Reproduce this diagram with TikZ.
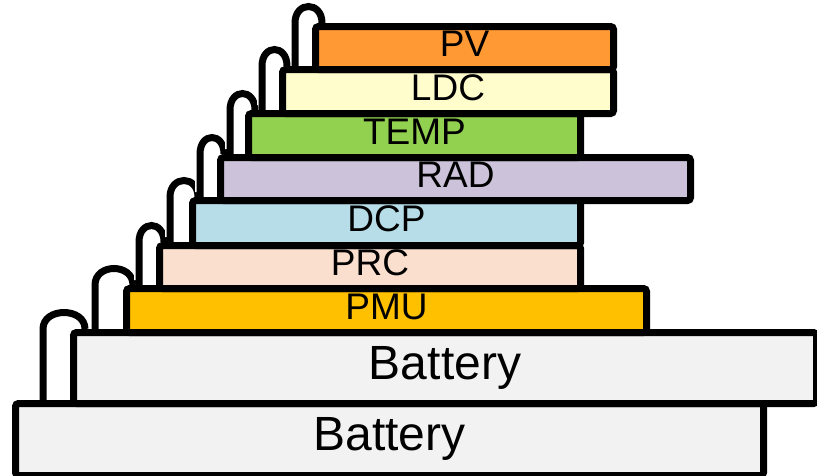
\documentclass[tikz,border=0pt]{standalone}
\usepackage{fontspec}
\setmainfont{Liberation Sans}
\usepackage{xcolor}
\usepackage{tikz}
\definecolor{layerpv}{RGB}{255,153,51}
\definecolor{layerldc}{RGB}{255,253,204}
\definecolor{layertemp}{RGB}{146,208,80}
\definecolor{layerrad}{RGB}{204,194,218}
\definecolor{layerdcp}{RGB}{183,222,232}
\definecolor{layerprc}{RGB}{250,222,206}
\definecolor{layerpmu}{RGB}{255,192,0}
\definecolor{layerbat}{RGB}{242,242,242}
\tikzset{
  stacklayer/.style={
    rectangle,
    rounded corners=3pt,
    draw=black,
    line width=7pt,
    anchor=north west,
    inner sep=0pt,
    align=center,
    text height=26.5pt,
    text depth=9.3pt,
    font=\fontsize{37}{40}\selectfont
  },
  batterylayer/.style={
    stacklayer,
    fill=layerbat,
    text height=34.4pt,
    text depth=12pt,
    font=\fontsize{48}{52}\selectfont
  },
  stackhook/.style={
    draw=black,
    line width=7pt,
    preaction={draw=white, line width=10pt, shorten <=5pt, shorten >=5pt}
  }
}

\begin{document}
\begin{tikzpicture}[x=1pt, y=-1pt]
\useasboundingbox (0,0) rectangle (817,475);

% layers, bottom to top
\node[batterylayer, minimum width=748pt, minimum height=72pt] (batlow) at (12,400) {Battery};
\node[batterylayer, minimum width=743pt, minimum height=71pt] (batup) at (70,329) {Battery};
\node[stacklayer, fill=layerpmu, minimum width=520pt, minimum height=44pt] (pmu) at (123,285) {PMU};
\node[stacklayer, fill=layerprc, minimum width=421pt, minimum height=43pt] (prc) at (156,242) {PRC};
\node[stacklayer, fill=layerdcp, minimum width=388pt, minimum height=45pt] (dcp) at (189,197) {DCP};
\node[stacklayer, fill=layerrad, minimum width=470pt, minimum height=43pt] (rad) at (217,154) {RAD};
\node[stacklayer, fill=layertemp, minimum width=332pt, minimum height=44pt] (temp) at (245,110) {TEMP};
\node[stacklayer, fill=layerldc, minimum width=331pt, minimum height=44pt] (ldc) at (279,66) {LDC};
\node[stacklayer, fill=layerpv, minimum width=298pt, minimum height=43pt] (pv) at (312,23) {PV};

% hooks between layers
\draw[stackhook] ([xshift=15pt]batup.north west) .. controls +(0,22pt) and +(0,22pt) .. ([xshift=-27pt]batup.north west) -- ([xshift=31pt]batlow.north west);
\draw[stackhook] ([xshift=10pt]pmu.north west) .. controls +(0,22pt) and +(0,22pt) .. ([xshift=-28pt]pmu.north west) -- ([xshift=25pt]batup.north west);
\draw[stackhook] ([xshift=8pt]prc.north west) .. controls +(0,22pt) and +(0,22pt) .. ([xshift=-17pt]prc.north west) -- ([xshift=16pt]pmu.north west);
\draw[stackhook] ([xshift=9pt]dcp.north west) .. controls +(0,22pt) and +(0,22pt) .. ([xshift=-19pt]dcp.north west) -- ([xshift=14pt]prc.north west);
\draw[stackhook] ([xshift=7pt]rad.north west) .. controls +(0,22pt) and +(0,22pt) .. ([xshift=-17pt]rad.north west) -- ([xshift=11pt]dcp.north west);
\draw[stackhook] ([xshift=10pt]temp.north west) .. controls +(0,22pt) and +(0,22pt) .. ([xshift=-15pt]temp.north west) -- ([xshift=13pt]rad.north west);
\draw[stackhook] ([xshift=8pt]ldc.north west) .. controls +(0,22pt) and +(0,22pt) .. ([xshift=-17pt]ldc.north west) -- ([xshift=17pt]temp.north west);
\draw[stackhook] ([xshift=10pt]pv.north west) .. controls +(0,22pt) and +(0,22pt) .. ([xshift=-17pt]pv.north west) -- ([xshift=16pt]ldc.north west);
\end{tikzpicture}
\end{document}
